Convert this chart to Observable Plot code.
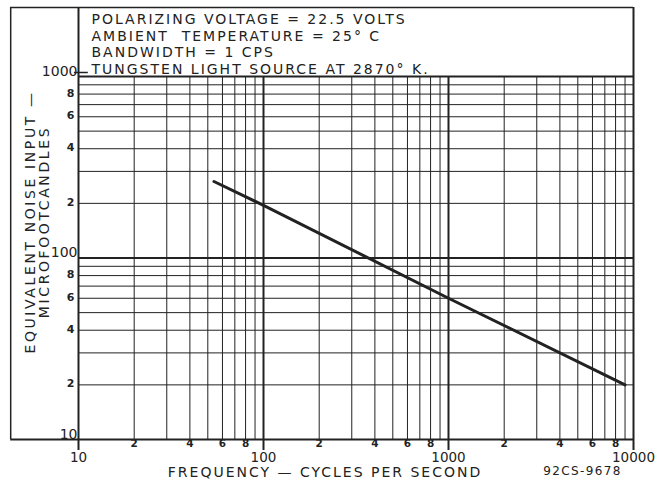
<!DOCTYPE html>
<html><head><meta charset="utf-8">
<script src="https://cdn.jsdelivr.net/npm/d3@7"></script>
<script src="https://cdn.jsdelivr.net/npm/@observablehq/plot@0.6"></script>
<style>
body{margin:0;background:#fff;}
#chart svg{display:block;}
g[aria-description="spaced"] text{letter-spacing:2px;}
g[aria-description="spaced-y"] text{letter-spacing:2.6px;}
g[aria-description="code"] text{letter-spacing:1.4px;}
</style></head><body><div id="chart"></div>
<script>
// Curve (log-log, straight line)
const frequency = [54, 100, 1000, 9000];
const noiseInput = [264, 195, 60, 20];

// Notes in the box above the chart
const notes = [
  "POLARIZING VOLTAGE = 22.5 VOLTS",
  "AMBIENT  TEMPERATURE = 25° C",
  "BANDWIDTH = 1 CPS",
  "TUNGSTEN LIGHT SOURCE AT 2870° K."
];
const yTitle = ["EQUIVALENT NOISE INPUT —", "MICROFOOTCANDLES"];
const xTitle = "FREQUENCY — CYCLES PER SECOND";
const figCode = "92CS-9678";

// Ticks / grid
const xDecades = [10, 100, 1000, 10000];
const xMinorGrid = [20,30,40,50,60,70,80,90,200,300,400,500,600,700,800,900,2000,3000,4000,5000,6000,7000,8000,9000];
const xMinorLabels = [20,40,60,80,200,400,600,800,2000,4000,6000,8000];
const yDecades = [10, 100, 1000];
const yMinorGrid = [20,30,40,50,60,70,80,90,200,300,400,500,600,700,800,900];
const yMinorLabels = [20,40,60,80,200,400,600,800];

// Outer box / tick extents (in data units, beyond the plotted domain)
const boxTop = 2400;
const boxLeft = 4.3;
const tickBottom = 8.7;
const dashLeft = 9.5, dashRight = 11.3;

const ink = "#222";
const mant = d => String(Math.round(d / Math.pow(10, Math.floor(Math.log10(d) + 1e-9))));
const curve = frequency.map((f, i) => ({f, v: noiseInput[i]}));

const chart = Plot.plot({
  width: 669, height: 483,
  marginLeft: 78, marginRight: 36, marginTop: 76, marginBottom: 44,
  style: {fontFamily: "DejaVu Sans", color: ink, background: "#fff"},
  x: {type: "log", domain: [10, 10000], axis: null},
  y: {type: "log", domain: [10, 1000], axis: null},
  marks: [
    Plot.ruleX(xMinorGrid, {y1: 10, y2: 1000, stroke: ink, strokeWidth: 1}),
    Plot.ruleY(yMinorGrid, {x1: 10, x2: 10000, stroke: ink, strokeWidth: 1}),
    Plot.ruleX([100, 1000], {y1: tickBottom, y2: 1000, stroke: ink, strokeWidth: 2}),
    Plot.ruleY([100, 1000], {x1: 10, x2: 10000, stroke: ink, strokeWidth: 2}),
    Plot.ruleX([10, 10000], {y1: tickBottom, y2: boxTop, stroke: ink, strokeWidth: 2}),
    Plot.ruleY([boxTop], {x1: boxLeft, x2: 10000, stroke: ink, strokeWidth: 1.5}),
    Plot.ruleY([10], {x1: boxLeft, x2: 10000, stroke: ink, strokeWidth: 2}),
    Plot.ruleX([boxLeft], {y1: 10, y2: boxTop, stroke: ink, strokeWidth: 1.5}),
    Plot.ruleY([1000], {x1: dashLeft, x2: dashRight, dy: -4, stroke: ink, strokeWidth: 1.5}),
    // tick labels
    Plot.text(xDecades, {x: d => d, frameAnchor: "bottom", dy: 22, text: d => String(d), fontSize: 13.5, fill: ink}),
    Plot.text(xMinorLabels, {x: d => d, frameAnchor: "bottom", dy: 7.5, text: mant, fontSize: 10.5, fontWeight: "bold", fill: ink}),
    Plot.text(yDecades, {y: d => d, frameAnchor: "left", dx: -1, dy: -5, textAnchor: "end", text: d => String(d), fontSize: 14, fill: ink}),
    Plot.text(yMinorLabels, {y: d => d, frameAnchor: "left", dx: -8, dy: -1, textAnchor: "middle", text: mant, fontSize: 11, fontWeight: "bold", fill: ink}),
    // curve
    Plot.line(curve, {x: "f", y: "v", stroke: ink, strokeWidth: 3}),
    // notes and titles
    Plot.text([notes.join("\n")], {frameAnchor: "top-left", dx: 13, dy: -3, lineAnchor: "bottom", textAnchor: "start", fontSize: 14, lineHeight: 1.17, fill: ink, ariaDescription: "spaced"}),
    Plot.text([yTitle.join("\n")], {frameAnchor: "left", rotate: -90, dx: -41, dy: -36, textAnchor: "middle", lineAnchor: "middle", fontSize: 14, lineHeight: 0.97, fill: ink, ariaDescription: "spaced-y"}),
    Plot.text([xTitle], {frameAnchor: "bottom", dx: -31, dy: 37, textAnchor: "middle", fontSize: 14, fill: ink, ariaDescription: "spaced"}),
    Plot.text([figCode], {frameAnchor: "bottom-right", dx: -51, dy: 35, textAnchor: "middle", fontSize: 12, fill: ink, ariaDescription: "code"})
  ]
});
document.getElementById("chart").append(chart);
</script>
</body></html>
